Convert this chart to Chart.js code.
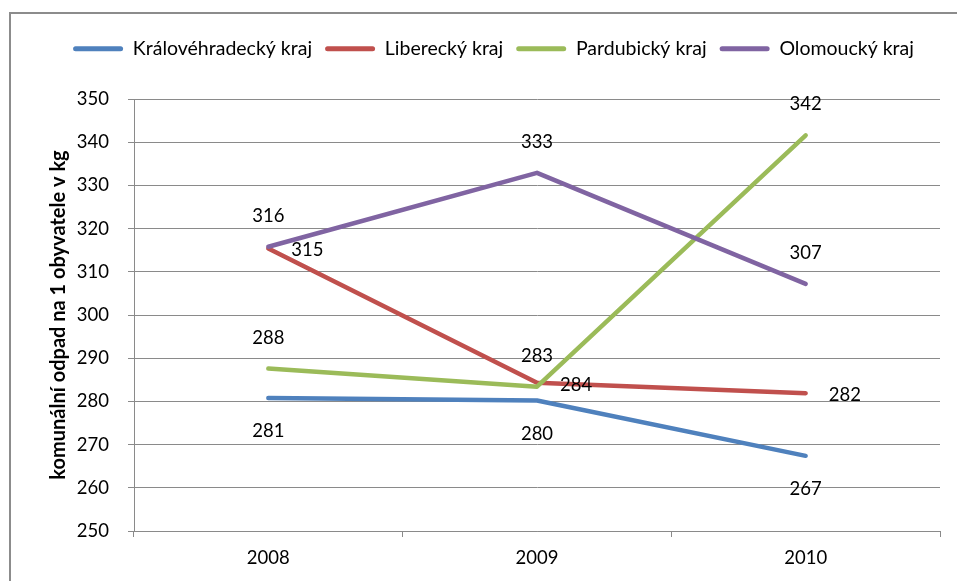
<!DOCTYPE html>
<html>
<head>
<meta charset="utf-8">
<script src="https://cdn.jsdelivr.net/npm/chart.js@4.4.1/dist/chart.umd.min.js"></script>
<style>
  html, body { margin: 0; padding: 0; background: #ffffff; }
  #wrap { position: relative; width: 957px; height: 581px; }
</style>
</head>
<body>
<div id="wrap"><canvas id="c" width="957" height="581"></canvas></div>
<script>
// ---- data ----
const categories = ['2008', '2009', '2010'];
const kralovehradecky = [280.8, 280.2, 267.4];
const liberecky = [315.4, 284.3, 281.9];
const pardubicky = [287.6, 283.4, 341.6];
const olomoucky = [315.8, 332.9, 307.2];
const seriesNames = ['Královéhradecký kraj', 'Liberecký kraj', 'Pardubický kraj', 'Olomoucký kraj'];
const yMin = 250, yMax = 350, yStep = 10;
const yTitle = 'komunální odpad na 1 obyvatele v kg';

// ---- style ----
const colors = ['#4F81BD', '#C0504D', '#9BBB59', '#8064A2'];
const labelPlacement = ['below', 'right', 'above', 'above'];
const FONT = 'Lato, "Open Sans", sans-serif';
const gridColor = '#8a8a8a';

const seriesValues = [kralovehradecky, liberecky, pardubicky, olomoucky];

const datasets = seriesValues.map((vals, i) => ({
  label: seriesNames[i],
  data: vals,
  borderColor: colors[i],
  backgroundColor: colors[i],
  borderWidth: 4.5,
  borderCapStyle: 'round',
  borderJoinStyle: 'round',
  pointRadius: 0,
  pointHoverRadius: 0,
  tension: 0,
  fill: false,
  order: seriesValues.length - i
}));

const frame = {
  id: 'frame',
  beforeDraw(chart) {
    const ctx = chart.ctx;
    ctx.save();
    ctx.fillStyle = '#ffffff';
    ctx.fillRect(0, 0, chart.width, chart.height);
    ctx.strokeStyle = '#8c8c8c';
    ctx.lineWidth = 2;
    ctx.beginPath();
    ctx.moveTo(10, chart.height + 5);
    ctx.lineTo(10, 13);
    ctx.lineTo(chart.width + 5, 13);
    ctx.stroke();
    ctx.restore();
  }
};

const dataLabels = {
  id: 'dataLabels',
  afterDatasetsDraw(chart) {
    const ctx = chart.ctx;
    ctx.save();
    ctx.font = '18.5px ' + FONT;
    ctx.fillStyle = '#000000';
    chart.data.datasets.forEach((ds, i) => {
      const meta = chart.getDatasetMeta(i);
      meta.data.forEach((pt, j) => {
        const txt = String(Math.round(ds.data[j]));
        const pos = labelPlacement[i];
        let x = pt.x, y = pt.y;
        if (pos === 'below') { ctx.textAlign = 'center'; y += 33; }
        else if (pos === 'above') { ctx.textAlign = 'center'; y -= 31; }
        else { ctx.textAlign = 'left'; x += 23; y += 2; }
        ctx.textBaseline = 'middle';
        ctx.fillText(txt, x, y);
      });
    });
    ctx.restore();
  }
};

new Chart(document.getElementById('c'), {
  type: 'line',
  data: { labels: categories, datasets },
  options: {
    responsive: false,
    animation: false,
    events: [],
    layout: { padding: { left: 47, right: 17, top: 26, bottom: 0 } },
    plugins: {
      legend: {
        display: true,
        position: 'top',
        align: 'center',
        labels: {
          boxWidth: 50,
          boxHeight: 5,
          useBorderRadius: true,
          borderRadius: 2.5,
          padding: 13,
          color: '#000000',
          font: { family: FONT, size: 19.5 },
          sort: (a, b) => a.datasetIndex - b.datasetIndex,
          generateLabels(chart) {
            return chart.data.datasets.map((ds, i) => ({
              text: ds.label,
              fillStyle: ds.borderColor,
              strokeStyle: ds.borderColor,
              lineWidth: 0,
              hidden: false,
              datasetIndex: i,
              borderRadius: 2.5
            }));
          }
        }
      },
      title: {
        display: true,
        text: '',
        weight: 500,
        position: 'top',
        font: { size: 10, lineHeight: 1 },
        padding: { top: 20.5, bottom: 0 }
      },
      tooltip: { enabled: false }
    },
    scales: {
      x: {
        type: 'category',
        offset: true,
        grid: {
          display: true,
          offset: true,
          drawOnChartArea: false,
          drawTicks: true,
          tickLength: 6,
          color: gridColor
        },
        border: { display: true, color: gridColor, width: 1 },
        ticks: {
          color: '#000000',
          font: { family: FONT, size: 18.5 },
          padding: 10,
          maxRotation: 0
        },
        afterFit(scale) { scale.height = 50; }
      },
      y: {
        type: 'linear',
        min: yMin,
        max: yMax,
        grid: {
          color: gridColor,
          lineWidth: 1,
          drawTicks: true,
          tickLength: 6
        },
        border: { display: true, color: gridColor, width: 1 },
        ticks: {
          stepSize: yStep,
          color: '#000000',
          font: { family: FONT, size: 18.5 },
          padding: 19
        },
        title: {
          display: true,
          text: yTitle,
          color: '#000000',
          font: { family: FONT, size: 20, weight: 'bold' },
          padding: { top: 0, bottom: 0 }
        },
        afterFit(scale) { scale.width = 87; }
      }
    }
  },
  plugins: [frame, dataLabels]
});
</script>
</body>
</html>
